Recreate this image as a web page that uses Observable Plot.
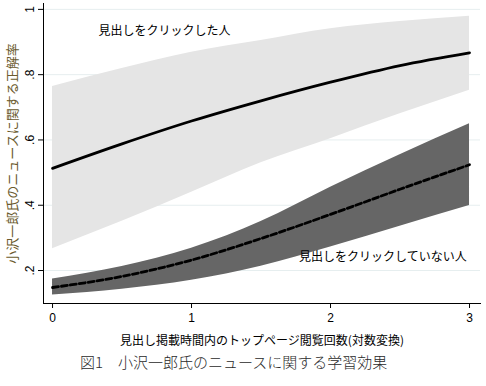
<!DOCTYPE html>
<html><head><meta charset="utf-8">
<script src="https://cdn.jsdelivr.net/npm/d3@7"></script>
<script src="https://cdn.jsdelivr.net/npm/@observablehq/plot@0.6"></script>
<style>
body{margin:0;background:#fff;}
#chart{width:486px;height:386px;overflow:hidden;}
#chart svg{display:block;}
.cap{font-family:"Noto Sans CJK JP",sans-serif;font-size:15px;font-weight:300;color:#2a2a2a;margin:0;padding-left:80px;line-height:20px;height:20px;white-space:nowrap;}
</style></head><body><div id="chart"></div>
<script>
// x values (log-transformed page views)
const xs = [0, 0.5, 1, 1.5, 2, 2.5, 3];
// clicked the headline
const clickedMean = [0.513, 0.588, 0.658, 0.720, 0.777, 0.828, 0.867];
const clickedLo   = [0.267, 0.351, 0.440, 0.530, 0.604, 0.680, 0.752];
const clickedHi   = [0.764, 0.819, 0.869, 0.905, 0.941, 0.963, 0.979];
// did not click the headline
const notMean = [0.148, 0.182, 0.232, 0.298, 0.372, 0.449, 0.524];
const notLo   = [0.125, 0.143, 0.170, 0.213, 0.272, 0.336, 0.399];
const notHi   = [0.174, 0.212, 0.268, 0.350, 0.455, 0.555, 0.650];

const yTicks = [0.2, 0.4, 0.6, 0.8, 1];
const yTickLabels = [".2", ".4", ".6", ".8", "1"];
const xTicks = [0, 1, 2, 3];

const groupNames = ["見出しをクリックした人", "見出しをクリックしていない人"];
const groupLabelX = [0.33, 2.98];
const groupLabelY = [0.933, 0.240];
const xTitle = "見出し掲載時間内のトップページ閲覧回数(対数変換)";
const yTitle = "小沢一郎氏のニュースに関する正解率";
const caption = "図1　小沢一郎氏のニュースに関する学習効果";

const rows = (m, lo, hi) => xs.map((x, i) => ({x, mean: m[i], lo: lo[i], hi: hi[i]}));
const clicked = rows(clickedMean, clickedLo, clickedHi);
const notClicked = rows(notMean, notLo, notHi);
const labelClicked = [{t: groupNames[0], x: groupLabelX[0], y: groupLabelY[0]}];
const labelNot = [{t: groupNames[1], x: groupLabelX[1], y: groupLabelY[1]}];

const jp = '"Noto Sans CJK JP", sans-serif';

const chart = Plot.plot({
  width: 486, height: 352,
  marginLeft: 43, marginRight: 6, marginTop: 3, marginBottom: 49,
  style: {fontFamily: '"Liberation Sans", Arial, sans-serif', fontSize: "12px", color: "#000", background: "#fff"},
  x: {domain: [-0.065, 3.079]},
  y: {domain: [0.099, 1.018]},
  marks: [
    Plot.gridY(yTicks, {stroke: "#e6eeef", strokeOpacity: 1}),
    Plot.areaY(clicked, {x: "x", y1: "lo", y2: "hi", fill: "#e5e5e5", curve: "monotone-x"}),
    Plot.areaY(notClicked, {x: "x", y1: "lo", y2: "hi", fill: "#666666", curve: "monotone-x"}),
    Plot.line(clicked, {x: "x", y: "mean", stroke: "#000", strokeWidth: 2.8, curve: "monotone-x"}),
    Plot.line(notClicked, {x: "x", y: "mean", stroke: "#000", strokeWidth: 2.8, strokeDasharray: "6,3", curve: "monotone-x"}),
    Plot.frame({anchor: "left", stroke: "#000"}),
    Plot.frame({anchor: "bottom", stroke: "#000"}),
    Plot.axisX(xTicks, {tickSize: 5, tickPadding: 5, label: null, stroke: "#000", tickFormat: d => String(d)}),
    Plot.axisY(yTicks, {tickSize: 5, tickFormat: () => "", label: null, stroke: "#000"}),
    Plot.text(yTicks, {y: d => d, text: d => yTickLabels[yTicks.indexOf(d)], frameAnchor: "left", dx: -13, rotate: -90, textAnchor: "middle", lineAnchor: "middle", fontSize: 12}),
    Plot.text([xTitle], {text: d => d, frameAnchor: "bottom", dy: 38, textAnchor: "middle", lineAnchor: "middle", fontFamily: jp, fontSize: 12}),
    Plot.text([yTitle], {text: d => d, frameAnchor: "left", dx: -31, rotate: -90, textAnchor: "middle", lineAnchor: "middle", fontFamily: jp, fontSize: 13, fill: "#6b5b2e"}),
    Plot.text(labelClicked, {x: "x", y: "y", text: "t", textAnchor: "start", lineAnchor: "middle", fontFamily: jp, fontSize: 12}),
    Plot.text(labelNot, {x: "x", y: "y", text: "t", textAnchor: "end", lineAnchor: "middle", fontFamily: jp, fontSize: 12})
  ]
});
const root = document.getElementById("chart");
root.appendChild(chart);
const cap = document.createElement("div");
cap.className = "cap";
cap.textContent = caption;
root.appendChild(cap);
</script></body></html>
